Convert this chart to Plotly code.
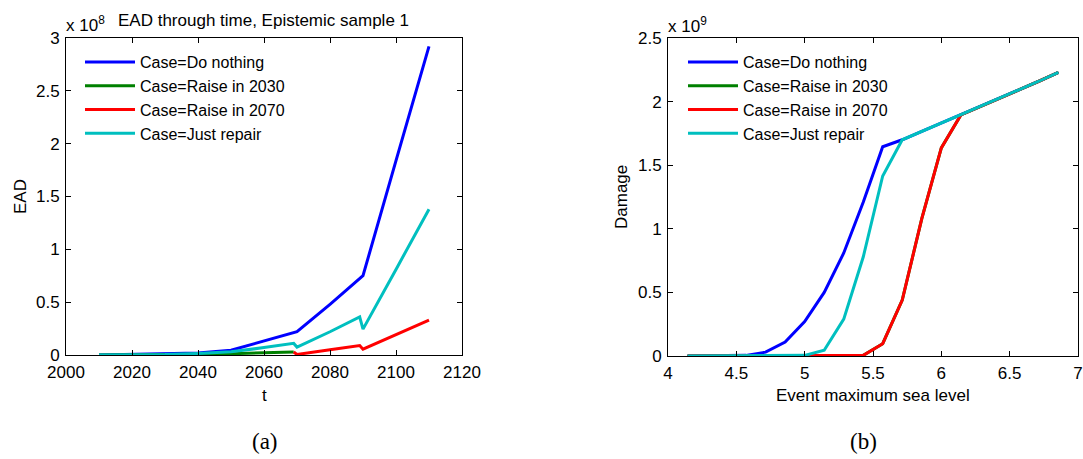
import plotly.graph_objects as go

# ---------------- data ----------------
# Panel (a): EAD through time (units of 1e8)
t_do = [2010, 2020, 2030, 2040, 2050, 2060, 2070, 2080, 2090, 2100, 2110]
ead_do = [0.0, 0.005, 0.01, 0.02, 0.045, 0.13, 0.22, 0.48, 0.75, 1.84, 2.92]

t_r2030 = [2010, 2020, 2030, 2040, 2050, 2060, 2069]
ead_r2030 = [0.0, 0.0, 0.002, 0.006, 0.012, 0.02, 0.028]

t_r2070 = [2069, 2070, 2080, 2089, 2090, 2100, 2110]
ead_r2070 = [0.028, 0.005, 0.05, 0.09, 0.055, 0.19, 0.33]

t_rep = [2010, 2020, 2030, 2040, 2050, 2060, 2069, 2070, 2080, 2089, 2090, 2100, 2110]
ead_rep = [0.0, 0.002, 0.005, 0.015, 0.03, 0.07, 0.11, 0.075, 0.22, 0.36, 0.245, 0.81, 1.38]

# Panel (b): Damage vs event maximum sea level (units of 1e9)
sea = [4.143, 4.286, 4.429, 4.571, 4.714, 4.857, 5.0, 5.143, 5.286, 5.429,
       5.571, 5.714, 5.857, 6.0, 6.143, 6.286, 6.429, 6.571, 6.714, 6.857]
dmg_do = [0.0, 0.0, 0.0, 0.005, 0.03, 0.11, 0.27, 0.50, 0.81, 1.21,
          1.645, 1.70, 1.765, 1.83, 1.895, 1.96, 2.03, 2.095, 2.16, 2.23]
dmg_r2030 = [0.0, 0.0, 0.0, 0.0, 0.0, 0.0, 0.0, 0.0, 0.0, 0.005,
             0.097, 0.44, 1.08, 1.636, 1.895, 1.96, 2.03, 2.095, 2.16, 2.23]
dmg_r2070 = [0.0, 0.0, 0.0, 0.0, 0.0, 0.0, 0.0, 0.0, 0.0, 0.005,
             0.097, 0.44, 1.08, 1.636, 1.895, 1.96, 2.03, 2.095, 2.16, 2.23]
dmg_rep = [0.0, 0.0, 0.0, 0.0, 0.0, 0.0, 0.005, 0.045, 0.29, 0.78,
           1.415, 1.70, 1.765, 1.83, 1.895, 1.96, 2.03, 2.095, 2.16, 2.23]

names = ["Case=Do nothing", "Case=Raise in 2030", "Case=Raise in 2070", "Case=Just repair"]
colors = ["#0000ff", "#008000", "#ff0000", "#00bfbf"]

# ---------------- figure ----------------
W, H = 1083, 459
def px(x):
    return x / W
def py(y):
    return 1 - y / H

fig = go.Figure()
left = [(t_do, ead_do), (t_r2030, ead_r2030), (t_r2070, ead_r2070), (t_rep, ead_rep)]
right = [(sea, dmg_do), (sea, dmg_r2030), (sea, dmg_r2070), (sea, dmg_rep)]
for i, (x, y) in enumerate(left):
    fig.add_trace(go.Scatter(x=x, y=y, mode="lines", name=names[i],
                             line=dict(color=colors[i], width=3),
                             xaxis="x", yaxis="y", legend="legend"))
for i, (x, y) in enumerate(right):
    fig.add_trace(go.Scatter(x=x, y=y, mode="lines", name=names[i],
                             line=dict(color=colors[i], width=3),
                             xaxis="x2", yaxis="y2", legend="legend2"))

FONT = "Liberation Sans, Arial, sans-serif"
axis_common = dict(showline=True, linecolor="black", linewidth=1, mirror="ticks",
                   ticks="inside", ticklen=5, tickcolor="black", showgrid=False,
                   zeroline=False, automargin=False,
                   tickfont=dict(family=FONT, size=17, color="black"))

fig.update_layout(
    width=W, height=H,
    margin=dict(l=0, r=0, t=0, b=0, autoexpand=False),
    paper_bgcolor="white", plot_bgcolor="white",
    font=dict(family=FONT, size=17, color="black"),
    xaxis=dict(domain=[px(66), px(462)], range=[2000, 2120], dtick=20, anchor="y",
               ticklabelstandoff=2, **axis_common),
    yaxis=dict(domain=[py(355), py(38)], range=[0, 3], dtick=0.5, anchor="x",
               ticklabelstandoff=2, **axis_common),
    xaxis2=dict(domain=[px(668), px(1078)], range=[4, 7], dtick=0.5, anchor="y2",
                ticklabelstandoff=2, **axis_common),
    yaxis2=dict(domain=[py(356), py(38)], range=[0, 2.5], dtick=0.5, anchor="x2",
                ticklabelstandoff=2, **axis_common),
    legend=dict(x=px(80), y=py(45), xanchor="left", yanchor="top", bgcolor="rgba(0,0,0,0)",
                font=dict(family=FONT, size=16), itemwidth=50, tracegroupgap=0),
    legend2=dict(x=px(683), y=py(45), xanchor="left", yanchor="top", bgcolor="rgba(0,0,0,0)",
                 font=dict(family=FONT, size=16), itemwidth=50, tracegroupgap=0),
)

ann = [
    dict(text="EAD through time, Epistemic sample 1", x=px(263), y=py(21), xanchor="center", yanchor="middle", font=dict(size=17)),
    dict(text="x 10<sup>8</sup>", x=px(64), y=py(24), xanchor="left", yanchor="middle", font=dict(size=17)),
    dict(text="x 10<sup>9</sup>", x=px(666), y=py(25), xanchor="left", yanchor="middle", font=dict(size=17)),
    dict(text="EAD", x=px(20), y=py(197), xanchor="center", yanchor="middle", textangle=-90, font=dict(size=17)),
    dict(text="Damage", x=px(621), y=py(197), xanchor="center", yanchor="middle", textangle=-90, font=dict(size=17)),
    dict(text="t", x=px(264), y=py(395), xanchor="center", yanchor="middle", font=dict(size=17)),
    dict(text="Event maximum sea level", x=px(873), y=py(395), xanchor="center", yanchor="middle", font=dict(size=17)),
    dict(text="(a)", x=px(265), y=py(441), xanchor="center", yanchor="middle",
         font=dict(family="Liberation Serif, Times New Roman, serif", size=23)),
    dict(text="(b)", x=px(863), y=py(441), xanchor="center", yanchor="middle",
         font=dict(family="Liberation Serif, Times New Roman, serif", size=23)),
]
for a in ann:
    a.update(xref="paper", yref="paper", showarrow=False)
    fig.add_annotation(**a)

fig.write_html("out.html", config={"displayModeBar": False},
               post_script="document.body.style.margin='0';")
